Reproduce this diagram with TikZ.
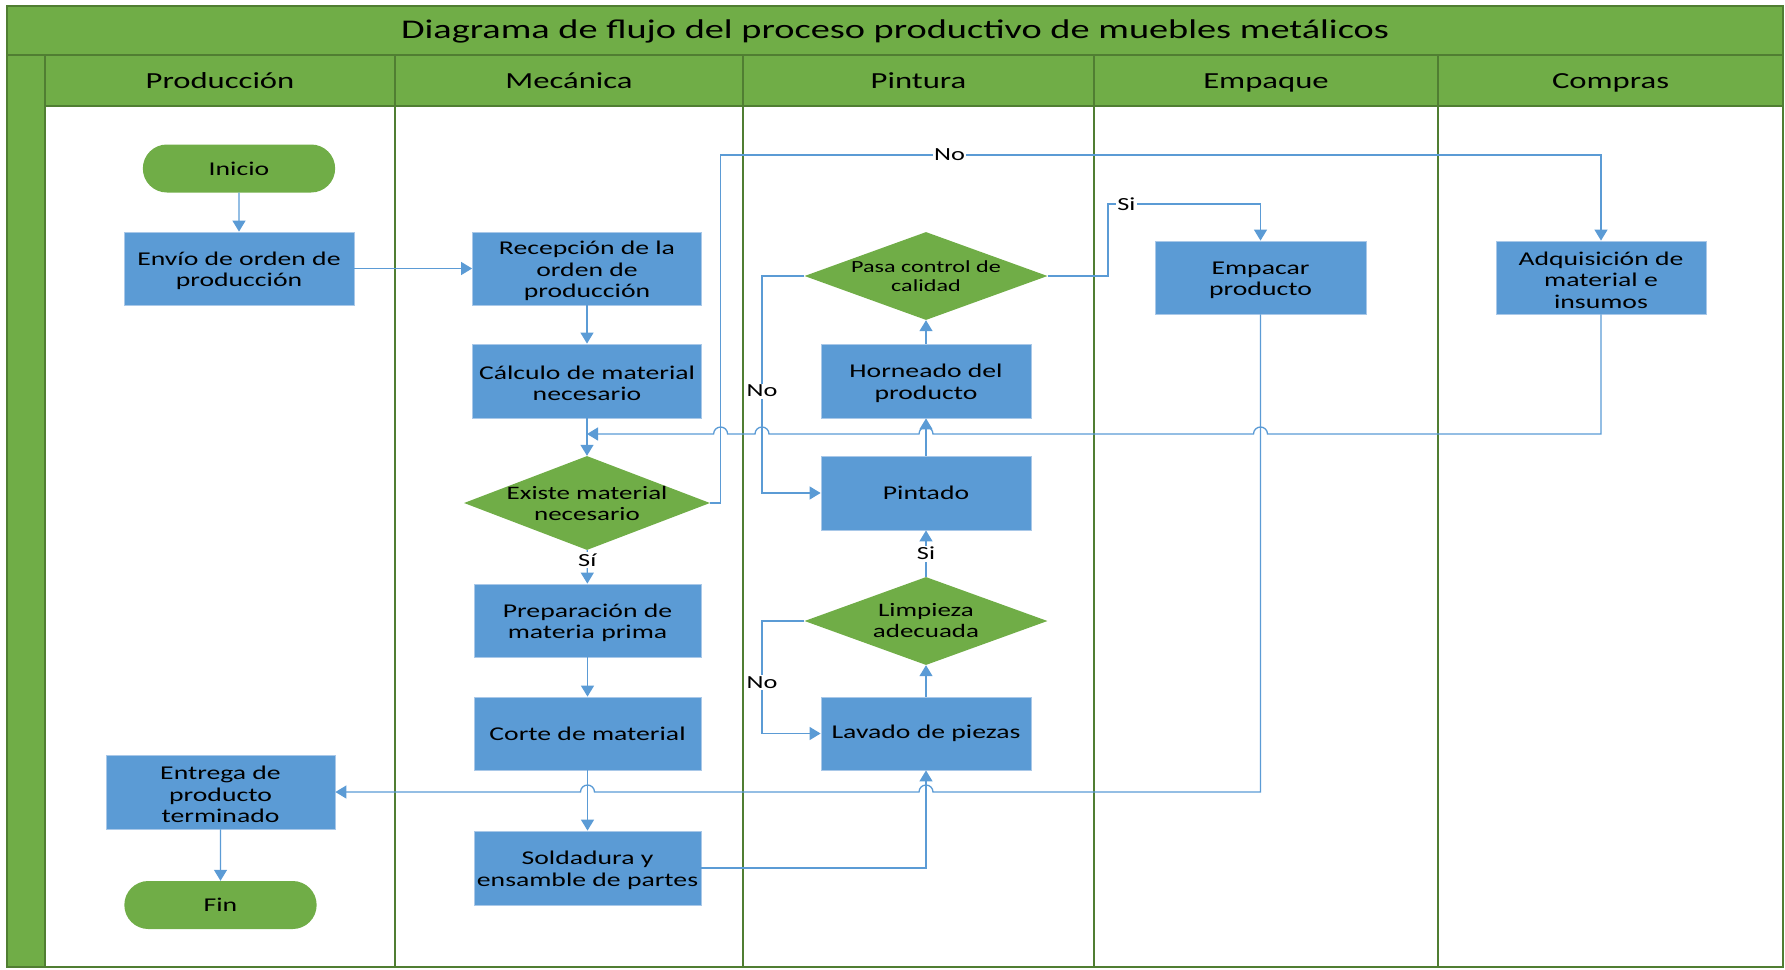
\documentclass[tikz,border=0pt]{standalone}
\usepackage{fontspec}
\setmainfont[FakeStretch=1.42]{Carlito}
\usetikzlibrary{arrows.meta,shapes.geometric,shapes.misc}
\definecolor{grn}{HTML}{70AD47}
\definecolor{dgrn}{HTML}{507E32}
\definecolor{blu}{HTML}{5B9BD5}
\definecolor{bord}{HTML}{A9C8E8}
\newcommand\txtup{\rule{0pt}{18.5pt}}
\begin{document}
\begin{tikzpicture}[x=1pt,y=-1pt,
  box/.style 2 args={rectangle, fill=blu, draw=bord, line width=0.8pt, align=center,
     font=\fontsize{19.5}{21.5}\selectfont, inner sep=0pt, minimum width=#1pt, minimum height=#2pt},
  term/.style={rounded rectangle, fill=grn, draw=none, minimum width=199pt, minimum height=48pt,
     font=\fontsize{19.5}{21.5}\selectfont},
  dec/.style 2 args={diamond, fill=grn, draw=none, inner sep=0pt, minimum width=#1pt, minimum height=#2pt},
  dectext/.style={align=center, font=\fontsize{19}{21}\selectfont, inner sep=0pt},
  dectexts/.style={align=center, font=\fontsize{17}{19}\selectfont, inner sep=0pt},
  conn/.style={draw=blu, line width=1.3pt},
  arr/.style={conn, -{Triangle[length=11pt,width=13pt]}},
  lbl/.style={fill=white, inner sep=1.5pt, font=\fontsize{18.5}{20}\selectfont},
  lane/.style={draw=dgrn, line width=1.5pt},
  hdr/.style={font=\fontsize{23}{26}\selectfont, text height=20pt, text depth=4pt},
]
\useasboundingbox (0,0) rectangle (1785,969);
% bands
\fill[grn] (7,6) rectangle (1783,55);
\fill[grn] (7,55) rectangle (1783,106);
\fill[grn] (7,106) rectangle (45,967);
\draw[lane] (7,55) -- (1783,55);
\draw[lane] (45,106) -- (1783,106);
\foreach \xx in {45,395,743,1094,1438} { \draw[lane] (\xx,55) -- (\xx,967); }
\draw[dgrn, line width=2.5pt] (7,6) rectangle (1783,967);

\node[font=\fontsize{27}{30}\selectfont, text height=22pt, text depth=6pt] (title) at (895,30.5) {Diagrama de flujo del proceso productivo de muebles metálicos};
\node[hdr] (hprod) at (220,80.5) {Producción};
\node[hdr] (hmec) at (569,80.5) {Mecánica};
\node[hdr] (hpint) at (918.5,80.5) {Pintura};
\node[hdr] (hemp) at (1266,80.5) {Empaque};
\node[hdr] (hcomp) at (1610.5,80.5) {Compras};

% nodes
\node[term] (inicio) at (239,168.5) {Inicio};
\node[box={230}{73}] (envio) at (239,268.5) {\txtup Envío de orden de\\producción};
\node[box={229}{73}] (recep) at (587,268.5) {\txtup Recepción de la\\orden de\\producción};
\node[box={229}{74}] (calc) at (587,381) {\txtup Cálculo de material\\necesario};
\node[dec={246}{94}, label={[dectext]center:{Existe material\\necesario}}] (existe) at (587,503) {};
\node[box={227}{73}] (prep) at (587.5,620.5) {\txtup Preparación de\\materia prima};
\node[box={227}{73}] (corte) at (587.5,733.5) {Corte de material};
\node[box={227}{74}] (sold) at (587.5,868) {\txtup Soldadura y\\ensamble de partes};
\node[box={229}{74}] (entrega) at (220.5,792) {\txtup Entrega de\\producto\\terminado};
\node[term] (fin) at (220.5,905) {Fin};

\node[dec={243}{88}, label={[dectexts]center:{Pasa control de\\calidad}}] (pasa) at (926,276) {};
\node[box={210}{74}] (horn) at (926,381) {\txtup Horneado del\\producto};
\node[box={210}{74}] (pint) at (926,493) {Pintado};
\node[dec={243}{88}, label={[dectext]center:{Limpieza\\adecuada}}] (limp) at (926,621) {};
\node[box={210}{73}] (lav) at (926,733.5) {Lavado de piezas};

\node[box={211}{73}] (empac) at (1260.5,277.5) {\txtup Empacar\\producto};
\node[box={210}{73}] (adq) at (1601,277.5) {\txtup Adquisición de\\material e\\insumos};

\coordinate (merge) at (587,434);

% connectors
\draw[arr] (inicio) -- (envio);
\draw[arr] (envio) -- (recep);
\draw[arr] (recep) -- (calc);
\draw[arr] (calc) -- (existe);
\draw[arr] (existe) -- node[lbl, pos=0.3] {Sí} (prep);
\draw[arr] (prep) -- (corte);
\draw[arr] (corte) -- (sold);
\draw[arr] (entrega) -- (fin);
\draw[arr] (sold.east) -| (lav.south);
\draw[arr] (lav) -- (limp);
\draw[arr] (limp) -- node[lbl, pos=0.5] {Si} (pint);
\draw[arr] (pint) -- (horn);
\draw[arr] (horn) -- (pasa);
% No from Limpieza
\draw[arr] (limp.west) -- (762,621) -- node[lbl, pos=0.55] {No} (762,733.5) -- (lav.west);
% No from Pasa
\draw[arr] (pasa.west) -- (762,276) -- node[lbl, pos=0.53] {No} (762,493) -- (pint.west);
% Si from Pasa
\draw[arr] (pasa.east) -- (1108,276) -- (1108,204) -- node[lbl, pos=0.12] {Si} (1260.5,204) -- (empac.north);
% No from Existe
\draw[arr] (existe.east) -- (720.6,503) -- (720.6,155) -- node[lbl, pos=0.26] {No} (1601,155) -- (adq.north);
% Adquisicion back to merge with hops
\draw[arr] (adq.south) -- (1601,434) -- (1267.5,434) arc[start angle=0,end angle=180,radius=7pt]
  -- (933,434) arc[start angle=0,end angle=180,radius=7pt]
  -- (769,434) arc[start angle=0,end angle=180,radius=7pt]
  -- (727.6,434) arc[start angle=0,end angle=180,radius=7pt]
  -- (merge);
% Empacar to Entrega with hops
\draw[arr] (empac.south) -- (1260.5,792) -- (933,792) arc[start angle=0,end angle=180,radius=7pt]
  -- (594.5,792) arc[start angle=0,end angle=180,radius=7pt]
  -- (entrega.east);
\end{tikzpicture}
\end{document}
